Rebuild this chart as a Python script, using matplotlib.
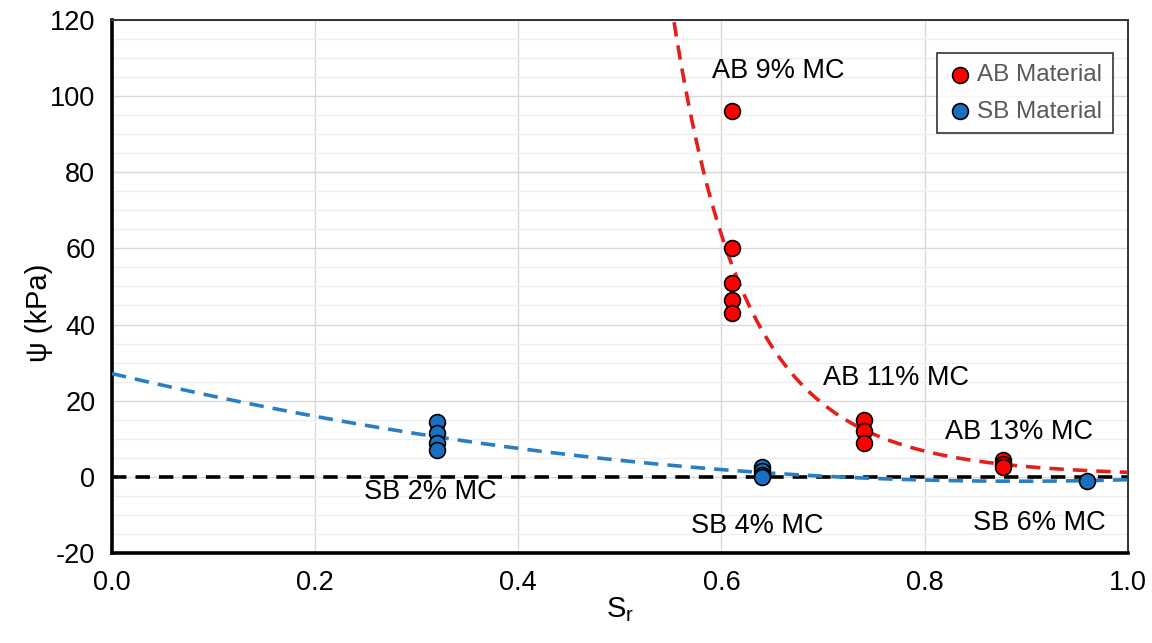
import numpy as np
import matplotlib
matplotlib.use("Agg")
import matplotlib.pyplot as plt
from matplotlib.ticker import MultipleLocator, FormatStrFormatter

plt.rcParams['font.family'] = ['Liberation Sans', 'DejaVu Sans']
plt.rcParams['mathtext.fontset'] = 'custom'
plt.rcParams['mathtext.rm'] = 'Liberation Sans'
plt.rcParams['axes.unicode_minus'] = False

# Measured suction vs. degree of saturation
ab_sr = [0.61, 0.61, 0.61, 0.61, 0.61, 0.74, 0.74, 0.74, 0.877, 0.877, 0.877]
ab_psi = [96, 60, 51, 46.5, 43, 15, 12, 9, 4.5, 3.5, 2.5]
sb_sr = [0.32, 0.32, 0.32, 0.32, 0.64, 0.64, 0.64, 0.64, 0.96]
sb_psi = [14.5, 11.5, 9, 7, 2.5, 1.5, 0.5, 0, -1]

labels = ["AB 9% MC", "AB 11% MC", "AB 13% MC", "SB 2% MC", "SB 4% MC", "SB 6% MC"]
label_x = [0.656, 0.772, 0.893, 0.313, 0.635, 0.913]
label_y = [106.5, 26, 11.8, -4, -13, -12]

red = "#ff0000"
blue = "#1a6fc0"

fig = plt.figure(figsize=(11.52, 6.43), dpi=100)
ax = fig.add_axes([0.0972, 0.14, 0.8818, 0.829])

# Trendlines: power law for AB, 2nd-order polynomial for SB
b, ln_a = np.polyfit(np.log(ab_sr), np.log(ab_psi), 1)
xs_ab = np.linspace(0.5, 1.0, 400)
ax.plot(xs_ab, np.exp(ln_a) * xs_ab ** b, ls=(0, (4, 2.5)), color="#e3201b", lw=2.6, zorder=3)

coef = np.polyfit(sb_sr, sb_psi, 2)
xs_sb = np.linspace(0.0, 1.0, 400)
ax.plot(xs_sb, np.polyval(coef, xs_sb), ls=(0, (4, 2.5)), color="#2a7fc2", lw=2.6, zorder=3)

ax.axhline(0, color="black", lw=2.6, ls=(0, (4, 2.5)), zorder=2.5)

ax.scatter(ab_sr, ab_psi, s=130, color=red, edgecolor="black", linewidth=1.2, zorder=4, label="AB Material")
ax.scatter(sb_sr, sb_psi, s=130, color=blue, edgecolor="black", linewidth=1.2, zorder=4, label="SB Material")

for t, x, y in zip(labels, label_x, label_y):
    ax.text(x, y, t, ha="center", va="center", fontsize=19.5, color="black", zorder=5)

ax.set_xlim(0, 1.0)
ax.set_ylim(-20, 120)
ax.xaxis.set_major_locator(MultipleLocator(0.2))
ax.yaxis.set_major_locator(MultipleLocator(20))
ax.yaxis.set_minor_locator(MultipleLocator(5))
ax.xaxis.set_major_formatter(FormatStrFormatter("%.1f"))
ax.grid(True, which="major", color="#d9d9d9", lw=1.0)
ax.grid(True, which="minor", axis="y", color="#eeeeee", lw=1.0)
ax.set_axisbelow(True)
ax.tick_params(which="both", length=0, labelsize=19.5)
ax.tick_params(axis="y", pad=12)
ax.tick_params(axis="x", pad=12)

for side in ["left", "bottom"]:
    ax.spines[side].set_linewidth(2.6)
    ax.spines[side].set_color("black")
for side in ["top", "right"]:
    ax.spines[side].set_linewidth(1.4)
    ax.spines[side].set_color("#333333")

ax.set_xlabel(r"S$_\mathregular{r}$", fontsize=21)
ax.xaxis.set_label_coords(0.5, -0.08)
ax.set_ylabel("ψ (kPa)", fontsize=21)
ax.yaxis.set_label_coords(-0.058, 0.45)

leg = ax.legend(loc="upper right", bbox_to_anchor=(0.9855, 0.938), fontsize=17.5,
                frameon=True, fancybox=False, handletextpad=0.2, borderpad=0.45,
                labelspacing=0.6, handlelength=1.0, markerscale=1.0,
                borderaxespad=0)
leg.get_frame().set_edgecolor("black")
leg.get_frame().set_linewidth(1.2)
for txt in leg.get_texts():
    txt.set_color("#595959")

fig.savefig("out.png", dpi=100)
